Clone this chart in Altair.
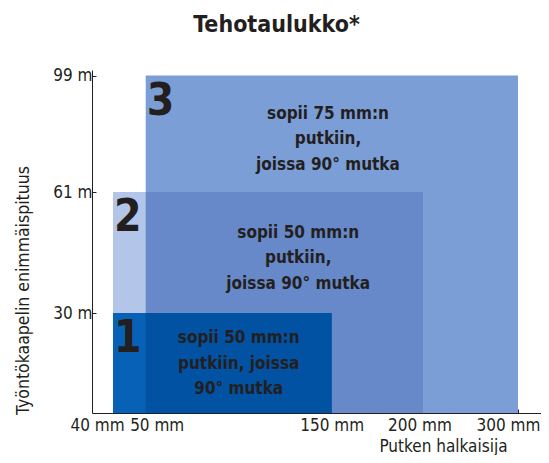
import altair as alt
import pandas as pd

# --- data ---
rect_ids = [1, 2, 3]
pipe_min = [40, 40, 50]        # mm
pipe_max = [150, 200, 300]     # mm
length_max = [30, 61, 99]      # m
rect_texts = [
    "sopii 50 mm:n\nputkiin, joissa\n90° mutka",
    "sopii 50 mm:n\nputkiin,\njoissa 90° mutka",
    "sopii 75 mm:n\nputkiin,\njoissa 90° mutka",
]
text_x = [100, 132, 148]     # label anchor (mm)
text_y = [22.5, 50.5, 86.5]  # first-line anchor (m)

x_ticks = [40, 50, 150, 200, 300]
y_ticks = [30, 61, 99]

C_3 = "#7c9ed6"
C_2 = "#b3c6ea"
C_23 = "#6789c9"
C_1 = "#0762b7"
C_13 = "#0152a3"

rects = [dict(id=i, x=a, x2=b, y=0, y2=h) for i, a, b, h in zip(rect_ids, pipe_min, pipe_max, length_max)]
r1, r2, r3 = rects


def inter(a, b):
    return dict(x=max(a["x"], b["x"]), x2=min(a["x2"], b["x2"]), y=max(a["y"], b["y"]), y2=min(a["y2"], b["y2"]))


pieces = []
for order, (shape, col) in enumerate([(r3, C_3), (r2, C_2), (inter(r2, r3), C_23), (r1, C_1), (inter(r1, r3), C_13)]):
    pieces.append(dict(order=order, x=shape["x"], x2=shape["x2"], y=shape["y"], y2=shape["y2"], color=col))
pieces_df = pd.DataFrame(pieces)

nums_df = pd.DataFrame(dict(id=[str(i) for i in rect_ids], x=pipe_min, y=length_max))
texts_df = pd.DataFrame(dict(t=rect_texts, x=text_x, y=text_y))

FONT = "DejaVu Sans Condensed, Liberation Sans Narrow, sans-serif"
INK = "#231f20"

W, H = 449, 343
xscale = alt.Scale(domain=[30, 40, 50, 150, 200, 300, 330],
                   range=[0, 21, 53.7, 239.7, 331.5, 426, W], nice=False, zero=False)
yscale = alt.Scale(domain=[0, 30, 61, 99, 100],
                   range=[H, 243, 122, 5.5, 0], nice=False, zero=False)

xaxis = alt.Axis(values=x_ticks, labelExpr="datum.value + ' mm'", title="Putken halkaisija",
                 grid=False, domainColor=INK, tickColor=INK, tickSize=alt.ExprRef("-4"),
                 labelFont=FONT, labelFontSize=17, labelColor=INK, labelPadding=8, labelOverlap=False,
                 labelOffset=alt.ExprRef(
                     "datum.value == 40 ? -16 : (datum.value == 50 ? 11 : (datum.value == 200 ? -4 : (datum.value == 300 ? -10 : 0)))"),
                 titleFont=FONT, titleFontSize=17, titleFontWeight="normal", titleColor=INK,
                 titleX=351, titleY=38.5, titleAlign="center", titleBaseline="alphabetic")
yaxis = alt.Axis(values=y_ticks, labelExpr="datum.value + ' m'", title="Työntökaapelin enimmäispituus",
                 grid=False, domainColor=INK, tickColor=INK, tickSize=alt.ExprRef("-4"),
                 labelFont=FONT, labelFontSize=17, labelColor=INK, labelPadding=4, labelOverlap=False,
                 titleFont=FONT, titleFontSize=17.5, titleFontWeight="normal", titleColor=INK,
                 titleX=-69, titleY=220, titleAngle=-90, titleAlign="center", titleBaseline="middle")

base = alt.Chart(pieces_df)
bars = base.mark_rect().encode(
    x=alt.X("x:Q", scale=xscale, axis=xaxis),
    x2="x2:Q",
    y=alt.Y("y:Q", scale=yscale, axis=yaxis),
    y2="y2:Q",
    color=alt.Color("color:N", scale=None),
    order="order:Q",
)

nums = alt.Chart(nums_df).mark_text(font=FONT, fontWeight="bold", fontSize=44,
                                    color=INK, align="left", baseline="alphabetic", dx=1, dy=39).encode(
    x=alt.X("x:Q", scale=xscale), y=alt.Y("y:Q", scale=yscale), text="id:N")

texts = alt.Chart(texts_df).mark_text(font=FONT, fontWeight="bold", fontSize=17, color=INK,
                                      align="center", baseline="middle", lineBreak="\n", lineHeight=25.5).encode(
    x=alt.X("x:Q", scale=xscale), y=alt.Y("y:Q", scale=yscale), text="t:N")

chart = alt.layer(bars, nums, texts).properties(
    width=W, height=H,
    title=alt.TitleParams("Tehotaulukko*", font=FONT, fontSize=23,
                          fontWeight="bold", color=INK, anchor="middle", dx=-40, offset=12,
                          baseline="alphabetic"),
    autosize=alt.AutoSizeParams(type="none"),
    padding={"left": 84, "top": 62, "right": 0, "bottom": 42},
    background="white",
).configure_view(stroke=None)

chart.save("out.html", embed_options={"renderer": "svg", "actions": False})
